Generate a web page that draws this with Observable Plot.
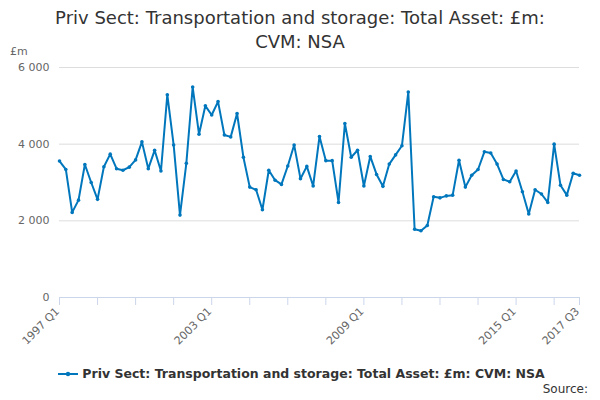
<!DOCTYPE html>
<html><head><meta charset="utf-8">
<script src="https://cdn.jsdelivr.net/npm/d3@7"></script>
<script src="https://cdn.jsdelivr.net/npm/@observablehq/plot@0.6"></script>
<style>
body{margin:0;font-family:"DejaVu Sans",sans-serif;background:#fff}
#wrap{position:relative;width:600px;height:400px}
#title{position:absolute;top:6px;left:0;width:600px;text-align:center;font-size:18px;color:#333;line-height:24px}
#unit{position:absolute;top:45px;left:10px;font-size:11px;color:#666}
#legend{position:absolute;top:366px;left:58px;font-size:12.5px;font-weight:bold;color:#333;display:flex;align-items:center}
#source{position:absolute;top:382px;right:12px;font-size:12px;color:#333}
</style></head><body>
<div id="wrap">
<div id="chart"></div>
<div id="title">Priv Sect: Transportation and storage: Total Asset: £m:<br>CVM: NSA</div>
<div id="unit">£m</div>
<div id="legend"><svg width="20" height="10"><line x1="0" y1="5" x2="20" y2="5" stroke="#0077bd" stroke-width="2"/><circle cx="10" cy="5" r="2.2" fill="#0077bd"/></svg>&nbsp;Priv Sect: Transportation and storage: Total Asset: £m: CVM: NSA</div>
<div id="source">Source:</div>
</div>
<script>
const startYear = 1997;
const values = [
3560,3340,2220,2540, 3470,3000,2560,3410, 3740,3360,3320,3400, 3590,4060,3360,3840,
3300,5290,3980,2150, 3500,5490,4260,5000, 4760,5110,4240,4190, 4800,3660,2880,2810,
2290,3320,3060,2950, 3430,3980,3100,3420, 2910,4200,3570,3570, 2480,4540,3660,3840,
2910,3680,3210,2900, 3480,3720,3960,5360, 1780,1740,1880,2630, 2600,2650,2670,3580,
2880,3190,3340,3800, 3770,3480,3080,3020, 3300,2760,2180,2810, 2700,2480,4000,2930,
2670,3240,3190];
const yTicks = [0,2000,4000,6000];
const labelIdx = [0,24,48,72,82];
const data = values.map((v,i)=>({i, v, label:`${startYear+Math.floor(i/4)} Q${i%4+1}`}));
const tickIdx = d3.range(0,82,6).concat([82]);
const fmt = d => d===0 ? "0" : d3.format(",")(d).replace(","," ");
const chart = Plot.plot({
  width:600, height:400,
  marginLeft:59, marginRight:21, marginTop:67, marginBottom:103,
  style:{fontFamily:"DejaVu Sans, sans-serif", fontSize:"11px", color:"#666"},
  x:{domain:[0,82], axis:null},
  y:{domain:[0,6000], axis:null},
  marks:[
    Plot.gridY(yTicks,{stroke:"#ddd", strokeOpacity:1}),
    Plot.text(yTicks,{x:0, y:d=>d, text:fmt, dx:-10, textAnchor:"end", fill:"#666"}),
    Plot.axisX(tickIdx,{tickFormat:()=>"", label:null, tickSize:8, stroke:"#ccd6eb", strokeOpacity:1}),
    Plot.ruleY([0],{stroke:"#ccd6eb"}),
    Plot.text(labelIdx,{x:d=>d, y:0, text:d=>data[d].label, rotate:-45, textAnchor:"end", dy:12, dx:-2, fill:"#666"}),
    Plot.line(data,{x:"i", y:"v", stroke:"#0077bd", strokeWidth:2}),
    Plot.dot(data,{x:"i", y:"v", fill:"#0077bd", r:1.8})
  ]
});
document.getElementById("chart").append(chart);
</script>
</body></html>
